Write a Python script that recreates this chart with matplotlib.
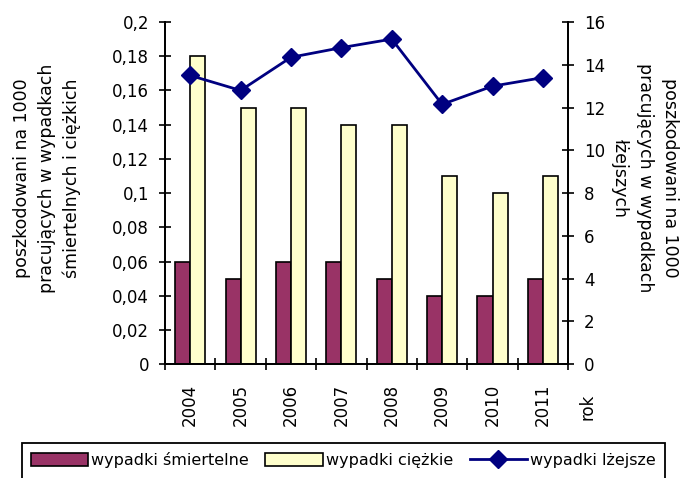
import matplotlib.pyplot as plt
import numpy as np
from matplotlib.patches import Rectangle
from matplotlib.ticker import FuncFormatter

years = ['2004', '2005', '2006', '2007', '2008', '2009', '2010', '2011']
fatal = [0.06, 0.05, 0.06, 0.06, 0.05, 0.04, 0.04, 0.05]
serious = [0.18, 0.15, 0.15, 0.14, 0.14, 0.11, 0.10, 0.11]
minor_inj = [13.5, 12.8, 14.35, 14.8, 15.2, 12.15, 13.0, 13.4]

plt.rcParams['font.family'] = ['DejaVu Sans']
plt.rcParams['font.size'] = 12


def comma(v, pos):
    s = ('%.2f' % v).rstrip('0').rstrip('.')
    return s.replace('.', ',')


fig = plt.figure(figsize=(6.82, 4.78), dpi=100)
ax = fig.add_axes([0.242, 0.238, 0.591, 0.716])
ax2 = ax.twinx()

x = np.arange(len(years))
w = 0.3
ax.bar(x - w / 2, fatal, w, color='#993366', edgecolor='black', linewidth=1.2,
       label='wypadki śmiertelne')
ax.bar(x + w / 2, serious, w, color='#FFFFCC', edgecolor='black', linewidth=1.2,
       label='wypadki ciężkie')
ax2.plot(x, minor_inj, color='#000080', marker='D', markersize=9, linewidth=2,
         label='wypadki lżejsze')

ax.set_xlim(-0.5, len(years) - 0.5)
ax.set_ylim(0, 0.2)
ax.set_yticks(np.arange(0, 0.201, 0.02))
ax.yaxis.set_major_formatter(FuncFormatter(comma))
ax2.set_ylim(0, 16)
ax2.set_yticks(range(0, 17, 2))

ax.set_xticks(x)
ax.set_xticklabels(years, rotation=90)
ax.set_xticks(np.arange(-0.5, len(years), 1), minor=True)
ax.tick_params(axis='x', which='major', length=0, pad=14)
ax.tick_params(axis='x', which='minor', direction='inout', length=8, width=1.2)
ax.tick_params(axis='y', direction='inout', length=9, width=1.2, pad=7)
ax2.tick_params(axis='y', direction='inout', length=9, width=1.2, pad=7)

for a in (ax, ax2):
    a.spines['top'].set_visible(False)
    for s in ('left', 'right', 'bottom'):
        a.spines[s].set_linewidth(1.3)

lab_kw = dict(ha='center', va='center', multialignment='center',
              fontsize=12.5, linespacing=1.5)
fig.text(0.069, 0.628, 'poszkodowani na 1000\npracujących w wypadkach\nśmiertelnych i ciężkich',
         rotation=90, **lab_kw)
fig.text(0.946, 0.628, 'poszkodowani na 1000\npracujących w wypadkach\nłżejszych',
         rotation=-90, **lab_kw)
fig.text(0.862, 0.148, 'rok', rotation=90, ha='center', va='center')

# legend box runs off the bottom edge like in the original
fig.patches.append(Rectangle((0.032, -0.05), 0.943, 0.123, transform=fig.transFigure,
                             facecolor='none', edgecolor='black', linewidth=1.3))

handles = ax.get_legend_handles_labels()[0] + ax2.get_legend_handles_labels()[0]
labels = ['wypadki śmiertelne', 'wypadki ciężkie', 'wypadki lżejsze']
fig.legend(handles, labels, loc='upper center',
           bbox_to_anchor=(0.032, 0.0, 0.943, 0.073),
           bbox_transform=fig.transFigure, fontsize=11.5,
           ncol=3, frameon=False,
           handlelength=3.6, handleheight=0.9, handletextpad=0.2,
           columnspacing=0.5, borderpad=0.55, borderaxespad=0.0,
           mode='expand')

fig.savefig('out.png', dpi=100)
